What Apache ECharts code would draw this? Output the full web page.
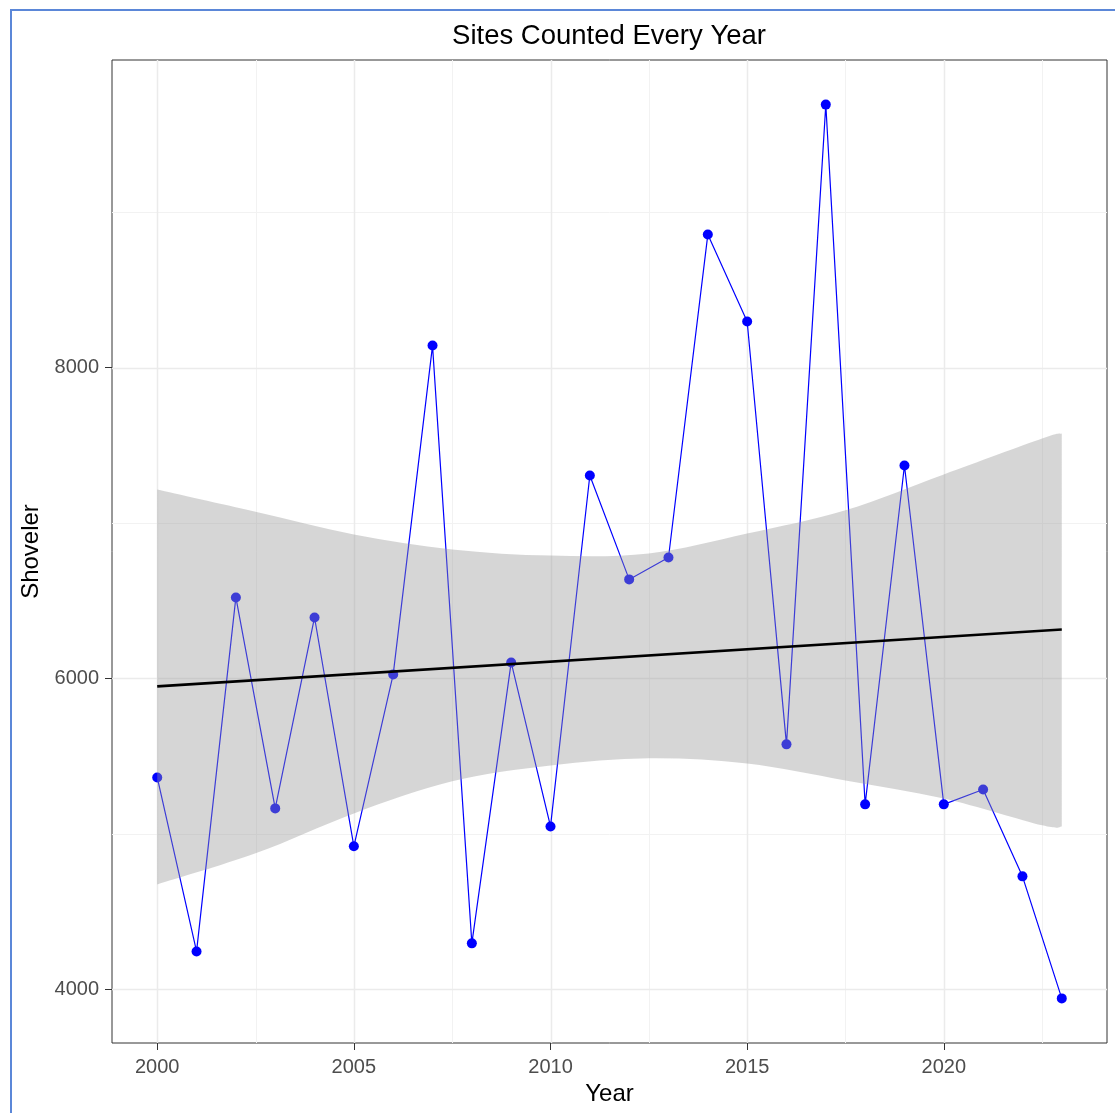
<!DOCTYPE html>
<html><head><meta charset="utf-8">
<script src="https://cdn.jsdelivr.net/npm/echarts@6/dist/echarts.min.js"></script>
<style>
html,body{margin:0;padding:0;background:#fff;overflow:hidden}
#c{width:1115px;height:1113px;position:absolute;left:0;top:0}
#frame{position:absolute;left:10px;top:9px;width:1200px;height:1200px;border-left:2px solid #5b87d8;border-top:2px solid #5b87d8;pointer-events:none}
</style></head><body>
<div id="c"></div><div id="frame"></div>
<script>
const years = [2000,2001,2002,2003,2004,2005,2006,2007,2008,2009,2010,2011,2012,2013,2014,2015,2016,2017,2018,2019,2020,2021,2022,2023];
const shoveler = [5363,4244,6521,5164,6392,4920,6026,8141,4296,6103,5048,7305,6637,6778,8855,8296,5576,9691,5190,7370,5190,5286,4727,3942];
const ribbonYears = [2000,2002.5,2005,2007.5,2010,2012.5,2015,2017.5,2020,2022.5,2023];
const ribbonUpper = [7215,7072,6926,6830,6790,6804,6932,7082,7312,7543,7576];
const ribbonLower = [4675,4875,5132,5338,5440,5486,5453,5344,5228,5055,5048];
const trendYears = [2000,2023];
const trendValues = [5949,6315];
const xTicks = [2000,2005,2010,2015,2020];
const xMinor = [2002.5,2007.5,2012.5,2017.5,2022.5];
const yTicks = [4000,6000,8000];
const yMinor = [5000,7000,9000];

const FONT = '"Liberation Sans", Arial, sans-serif';
const chart = echarts.init(document.getElementById('c'), null, {renderer:'canvas'});

function gridRender(params, api) {
  const cs = params.coordSys;
  const kids = [];
  const addV = (v, color, w) => {
    const x = Math.round(api.coord([v, 5000])[0]) + 0.5;
    kids.push({type:'line', shape:{x1:x, y1:cs.y, x2:x, y2:cs.y+cs.height}, style:{stroke:color, lineWidth:w}});
  };
  const addH = (v, color, w) => {
    const y = Math.round(api.coord([2010, v])[1]) + 0.5;
    kids.push({type:'line', shape:{x1:cs.x, y1:y, x2:cs.x+cs.width, y2:y}, style:{stroke:color, lineWidth:w}});
  };
  xMinor.forEach(v => addV(v, '#F2F2F2', 1));
  yMinor.forEach(v => addH(v, '#F2F2F2', 1));
  xTicks.forEach(v => addV(v, '#EBEBEB', 1.5));
  yTicks.forEach(v => addH(v, '#EBEBEB', 1.5));
  return {type:'group', children:kids};
}

// Catmull-Rom curve through screen points, as SVG path commands (without initial M)
function curveCmds(p) {
  let s = '';
  for (let i = 0; i < p.length - 1; i++) {
    const p0 = p[Math.max(i - 1, 0)], p1 = p[i], p2 = p[i + 1], p3 = p[Math.min(i + 2, p.length - 1)];
    const c1x = p1[0] + (p2[0] - p0[0]) / 6, c1y = p1[1] + (p2[1] - p0[1]) / 6;
    const c2x = p2[0] - (p3[0] - p1[0]) / 6, c2y = p2[1] - (p3[1] - p1[1]) / 6;
    s += ' C' + c1x + ',' + c1y + ' ' + c2x + ',' + c2y + ' ' + p2[0] + ',' + p2[1];
  }
  return s;
}

function ribbonRender(params, api) {
  const up = ribbonYears.map((y, i) => api.coord([y, ribbonUpper[i]]));
  const lo = ribbonYears.map((y, i) => api.coord([y, ribbonLower[i]])).reverse();
  let d = 'M' + up[0][0] + ',' + up[0][1] + curveCmds(up);
  d += ' L' + lo[0][0] + ',' + lo[0][1] + curveCmds(lo) + ' Z';
  return {type: 'path', shape: {pathData: d}, style: {fill: 'rgba(153,153,153,0.4)', stroke: null}};
}

const option = {
  backgroundColor: '#fff',
  animation: false,
  graphic: [{
    type: 'text', x: 609, y: 36, z: 10,
    style: {text: 'Sites Counted Every Year', fontFamily: FONT, fontSize: 27.5, fill: '#000', textAlign: 'center', textVerticalAlign: 'middle'}
  }],
  grid: {left: 112, top: 60, right: 8, bottom: 70, outerBoundsMode: 'none', containLabel: false, show: true, borderColor: '#333', borderWidth: 1, backgroundColor: 'transparent'},
  xAxis: {
    type: 'value', min: 1998.85, max: 2024.15,
    name: 'Year', nameLocation: 'middle', nameGap: 39,
    nameTextStyle: {fontFamily: FONT, fontSize: 24, color: '#000'},
    axisLine: {show: false},
    splitLine: {show: false},
    axisTick: {show: true, customValues: xTicks, length: 7, lineStyle: {color: '#333', width: 1}},
    axisLabel: {customValues: xTicks, fontFamily: FONT, fontSize: 20, color: '#4D4D4D', margin: 14, formatter: v => String(v)}
  },
  yAxis: {
    type: 'value', min: 3655, max: 9978,
    name: 'Shoveler', nameLocation: 'middle', nameGap: 60, nameRotate: 90,
    nameTextStyle: {fontFamily: FONT, fontSize: 24, color: '#000'},
    axisLine: {show: false},
    splitLine: {show: false},
    axisTick: {show: true, customValues: yTicks, length: 7, lineStyle: {color: '#333', width: 1}},
    axisLabel: {customValues: yTicks, fontFamily: FONT, fontSize: 20, color: '#4D4D4D', margin: 13, padding: [5,0,0,0], formatter: v => String(v)}
  },
  series: [
    {
      type: 'custom', z: 0, silent: true, clip: true,
      data: [[2010, 5000]],
      renderItem: gridRender
    },
    {
      type: 'line', z: 2, data: years.map((y,i) => [y, shoveler[i]]),
      lineStyle: {color: '#0000FF', width: 1.2},
      itemStyle: {color: '#0000FF'},
      symbol: 'circle', symbolSize: 10, showSymbol: true
    },
    {
      type: 'custom', z: 3, silent: true,
      data: [[ribbonYears[0], ribbonUpper[0]]],
      renderItem: ribbonRender
    },
    {
      type: 'line', z: 4, data: trendYears.map((y,i) => [y, trendValues[i]]),
      lineStyle: {color: '#000', width: 2.6}, symbol: 'none', silent: true
    }
  ]
};
chart.setOption(option);
</script>
</body></html>
